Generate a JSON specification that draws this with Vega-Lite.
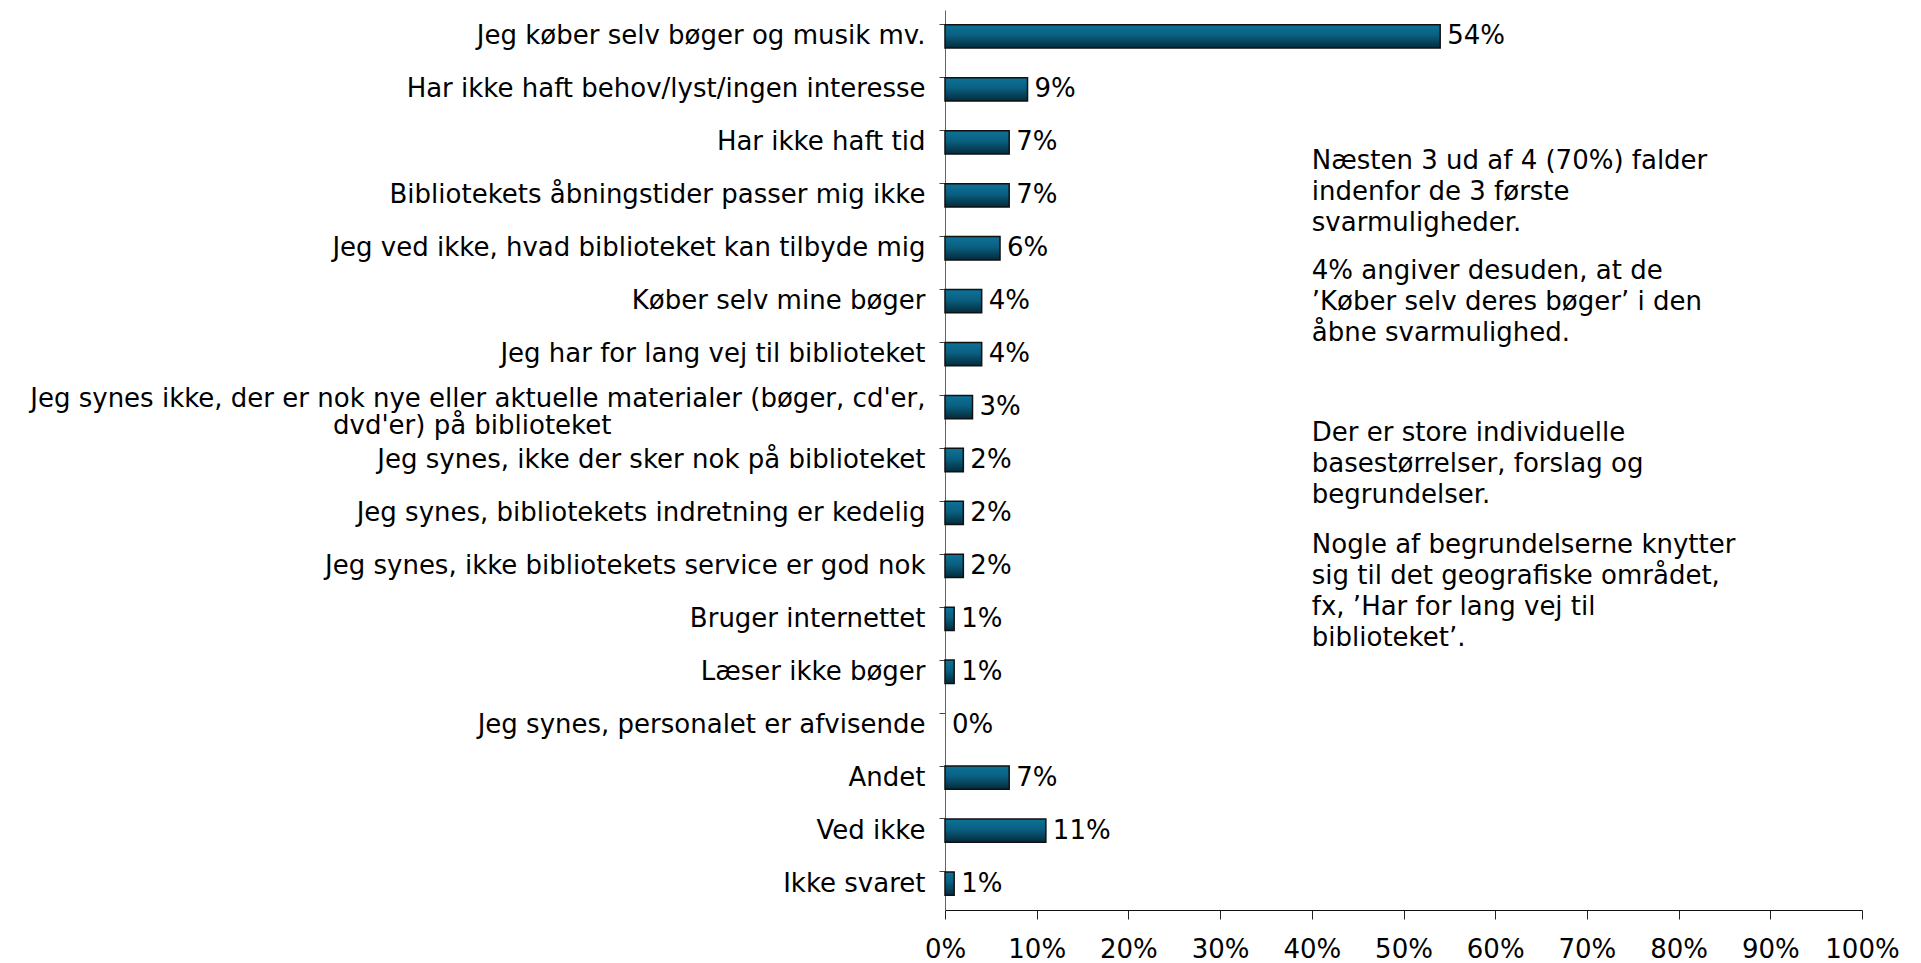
{
  "$schema": "https://vega.github.io/schema/vega-lite/v6.json",
  "autosize": {"type": "none"},
  "width": 917,
  "height": 900,
  "padding": {"left": 945, "top": 10, "right": 59, "bottom": 53},
  "background": "white",
  "config": {
    "view": {"stroke": null},
    "font": "DejaVu Sans",
    "axis": {"labelFont": "DejaVu Sans", "labelFontSize": 26, "labelColor": "black", "grid": false, "title": null}
  },
  "datasets": {
    "bars": [
      {"cat": "Jeg køber selv bøger og musik mv.", "pct": 54, "lbl": "54%"},
      {"cat": "Har ikke haft behov/lyst/ingen interesse", "pct": 9, "lbl": "9%"},
      {"cat": "Har ikke haft tid", "pct": 7, "lbl": "7%"},
      {"cat": "Bibliotekets åbningstider passer mig ikke", "pct": 7, "lbl": "7%"},
      {"cat": "Jeg ved ikke, hvad biblioteket kan tilbyde mig", "pct": 6, "lbl": "6%"},
      {"cat": "Køber selv mine bøger", "pct": 4, "lbl": "4%"},
      {"cat": "Jeg har for lang vej til biblioteket", "pct": 4, "lbl": "4%"},
      {"cat": "Jeg synes ikke, der er nok nye eller aktuelle materialer (bøger, cd'er, dvd'er) på biblioteket", "pct": 3, "lbl": "3%"},
      {"cat": "Jeg synes, ikke der sker nok på biblioteket", "pct": 2, "lbl": "2%"},
      {"cat": "Jeg synes, bibliotekets indretning er kedelig", "pct": 2, "lbl": "2%"},
      {"cat": "Jeg synes, ikke bibliotekets service er god nok", "pct": 2, "lbl": "2%"},
      {"cat": "Bruger internettet", "pct": 1, "lbl": "1%"},
      {"cat": "Læser ikke bøger", "pct": 1, "lbl": "1%"},
      {"cat": "Jeg synes, personalet er afvisende", "pct": 0, "lbl": "0%"},
      {"cat": "Andet", "pct": 7, "lbl": "7%"},
      {"cat": "Ved ikke", "pct": 11, "lbl": "11%"},
      {"cat": "Ikke svaret", "pct": 1, "lbl": "1%"}
    ],
    "notes": [
      {"id": 1, "x": 40, "cat": "Har ikke haft tid", "note": "Næsten 3 ud af 4 (70%) falder\nindenfor de 3 første\nsvarmuligheder."},
      {"id": 2, "x": 40, "cat": "Jeg ved ikke, hvad biblioteket kan tilbyde mig", "note": "4% angiver desuden, at de\n’Køber selv deres bøger’ i den\nåbne svarmulighed."},
      {"id": 3, "x": 40, "cat": "Jeg synes ikke, der er nok nye eller aktuelle materialer (bøger, cd'er, dvd'er) på biblioteket", "note": "Der er store individuelle\nbasestørrelser, forslag og\nbegrundelser."},
      {"id": 4, "x": 40, "cat": "Jeg synes, bibliotekets indretning er kedelig", "note": "Nogle af begrundelserne knytter\nsig til det geografiske området,\nfx, ’Har for lang vej til\nbiblioteket’."}
    ]
  },
  "layer": [
    {
      "data": {"name": "bars"},
      "mark": {
        "type": "bar",
        "color": {"gradient": "linear", "x1": 0, "y1": 0, "x2": 0, "y2": 1,
          "stops": [{"offset": 0, "color": "#0c7399"}, {"offset": 0.45, "color": "#0a5f80"}, {"offset": 1, "color": "#032b3b"}]},
        "stroke": "#111111",
        "strokeWidth": 1.5
      },
      "encoding": {
        "y": {
          "field": "cat", "type": "nominal", "sort": null,
          "scale": {"paddingInner": 0.56, "paddingOuter": 0.28},
          "axis": {
            "bandPosition": 0,
            "tickSize": 6,
            "tickColor": "#444444",
            "domainColor": "#666666",
            "labelPadding": 14,
            "labelLimit": 0,
            "labelLineHeight": 27,
            "labelOffset": {"condition": {"test": "length(datum.label) > 60", "value": -8}, "value": 0},
            "labelExpr": "length(datum.label) > 60 ? [\"Jeg synes ikke, der er nok nye eller aktuelle materialer (bøger, cd'er,\", \"dvd'er) på biblioteket\u00a0\u00a0\u00a0\u00a0\u00a0\u00a0\u00a0\u00a0\u00a0\u00a0\u00a0\u00a0\u00a0\u00a0\u00a0\u00a0\u00a0\u00a0\u00a0\u00a0\u00a0\u00a0\u00a0\u00a0\u00a0\u00a0\u00a0\u00a0\u00a0\u00a0\u00a0\u00a0\u00a0\u00a0\u00a0\u00a0\u00a0\u00a0\u200b\"] : datum.label"
          }
        },
        "x": {
          "field": "pct", "type": "quantitative",
          "scale": {"domain": [0, 100], "nice": false},
          "axis": {
            "values": [0, 10, 20, 30, 40, 50, 60, 70, 80, 90, 100],
            "labelExpr": "datum.value + '%'",
            "tickSize": 9,
            "tickColor": "#222222",
            "domainColor": "#111111",
            "labelPadding": 17,
            "labelFlush": false
          }
        },
        "strokeOpacity": {"condition": {"test": "datum.pct == 0", "value": 0}, "value": 1}
      }
    },
    {
      "data": {"name": "bars"},
      "mark": {"type": "text", "align": "left", "baseline": "middle", "dx": 7, "fontSize": 26, "font": "DejaVu Sans", "color": "black"},
      "encoding": {
        "y": {"field": "cat", "type": "nominal", "sort": null},
        "x": {"field": "pct", "type": "quantitative"},
        "text": {"field": "lbl"}
      }
    },
    {
      "data": {"name": "notes"},
      "transform": [{"filter": "datum.id == 1"}],
      "mark": {"type": "text", "align": "left", "baseline": "middle", "lineBreak": "\n", "lineHeight": 31, "dy": 19, "fontSize": 26, "font": "DejaVu Sans", "color": "black"},
      "encoding": {
        "y": {"field": "cat", "type": "nominal", "sort": null},
        "x": {"field": "x", "type": "quantitative"},
        "text": {"field": "note"}
      }
    },
    {
      "data": {"name": "notes"},
      "transform": [{"filter": "datum.id == 2"}],
      "mark": {"type": "text", "align": "left", "baseline": "middle", "lineBreak": "\n", "lineHeight": 31, "dy": 23, "fontSize": 26, "font": "DejaVu Sans", "color": "black"},
      "encoding": {
        "y": {"field": "cat", "type": "nominal", "sort": null},
        "x": {"field": "x", "type": "quantitative"},
        "text": {"field": "note"}
      }
    },
    {
      "data": {"name": "notes"},
      "transform": [{"filter": "datum.id == 3"}],
      "mark": {"type": "text", "align": "left", "baseline": "middle", "lineBreak": "\n", "lineHeight": 31, "dy": 26, "fontSize": 26, "font": "DejaVu Sans", "color": "black"},
      "encoding": {
        "y": {"field": "cat", "type": "nominal", "sort": null},
        "x": {"field": "x", "type": "quantitative"},
        "text": {"field": "note"}
      }
    },
    {
      "data": {"name": "notes"},
      "transform": [{"filter": "datum.id == 4"}],
      "mark": {"type": "text", "align": "left", "baseline": "middle", "lineBreak": "\n", "lineHeight": 31, "dy": 32, "fontSize": 26, "font": "DejaVu Sans", "color": "black"},
      "encoding": {
        "y": {"field": "cat", "type": "nominal", "sort": null},
        "x": {"field": "x", "type": "quantitative"},
        "text": {"field": "note"}
      }
    }
  ]
}
